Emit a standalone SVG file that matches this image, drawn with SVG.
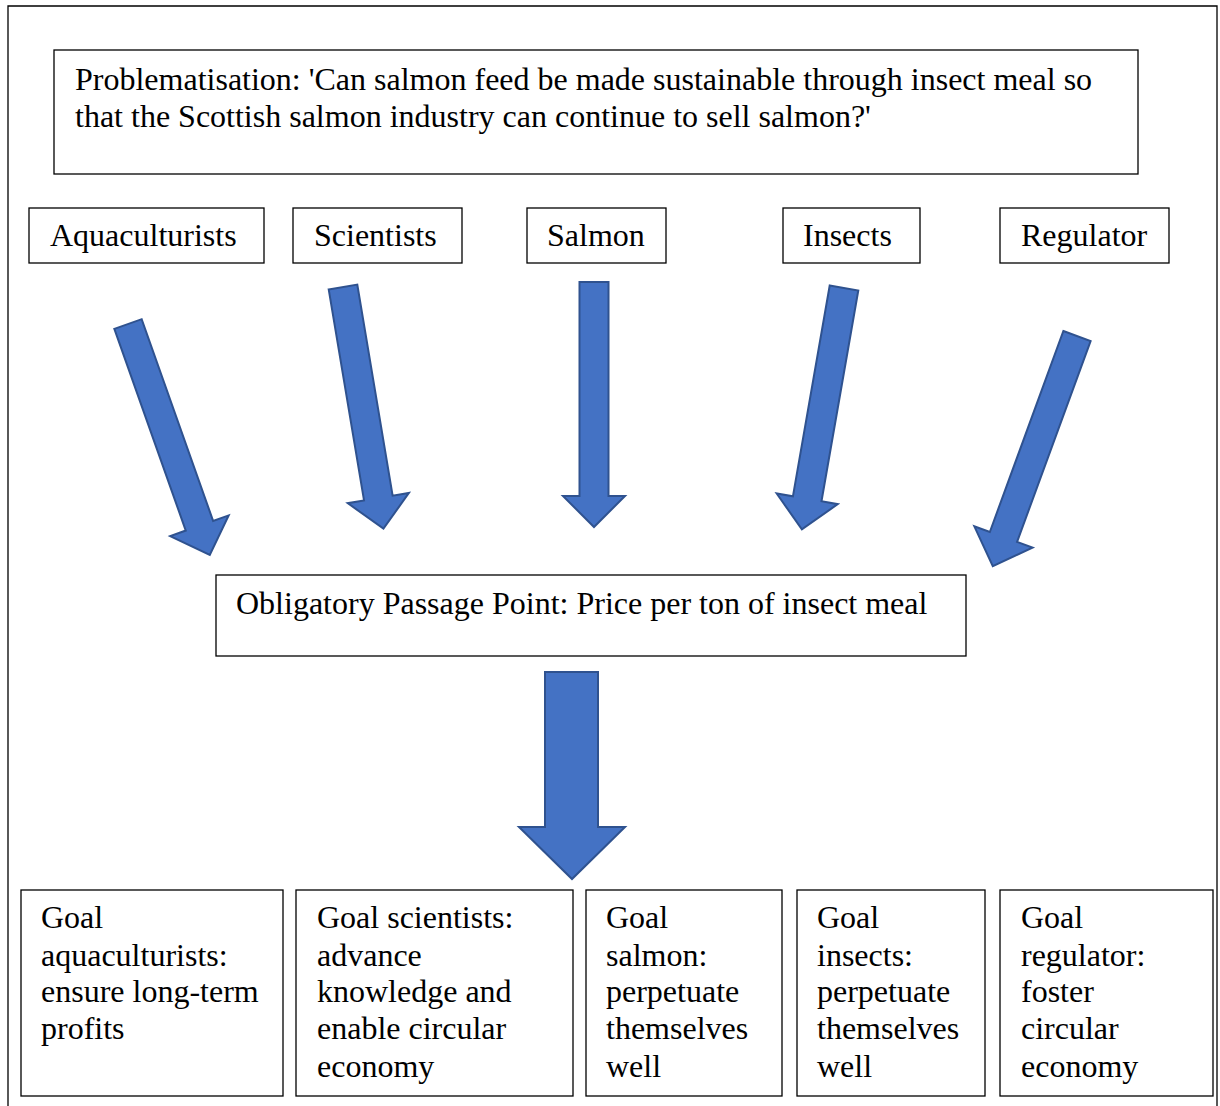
<svg xmlns="http://www.w3.org/2000/svg" width="1220" height="1106" viewBox="0 0 1220 1106">
<style>
.box{fill:#fff;stroke:#000;stroke-width:1.3}
.t{font-family:"Liberation Serif","Times New Roman",serif;font-size:32px;fill:#000}
.arr{fill:#4472C4;stroke:#2F528F;stroke-width:2;stroke-linejoin:miter}
</style>
<defs>
<path id="a" d="M -14.5 0 L 14.5 0 L 14.5 214 L 31 214 L 0 245 L -31 214 L -14.5 214 Z"/>
</defs>
<rect width="1220" height="1106" fill="#fff"/>
<path d="M 8 1106 L 8 6 L 1217 6 L 1217 1106" fill="none" stroke="#000" stroke-width="1.3"/>
<g id="problem"><rect class="box" x="54" y="50" width="1084" height="124"/>
<text class="t" x="75" y="90">Problematisation: 'Can salmon feed be made sustainable through insect meal so</text>
<text class="t" x="75" y="127">that the Scottish salmon industry can continue to sell salmon?'</text></g>
<g id="aquaculturists"><rect class="box" x="29" y="208" width="235" height="55"/><text class="t" x="50" y="246">Aquaculturists</text></g>
<g id="scientists"><rect class="box" x="293" y="208" width="169" height="55"/><text class="t" x="314" y="246">Scientists</text></g>
<g id="salmon"><rect class="box" x="527" y="208" width="139" height="55"/><text class="t" x="547" y="246">Salmon</text></g>
<g id="insects"><rect class="box" x="783" y="208" width="137" height="55"/><text class="t" x="803" y="246">Insects</text></g>
<g id="regulator"><rect class="box" x="1000" y="208" width="169" height="55"/><text class="t" x="1021" y="246">Regulator</text></g>
<g id="opp"><rect class="box" x="216" y="575" width="750" height="81"/><text class="t" x="236" y="614">Obligatory Passage Point: Price per ton of insect meal</text></g>
<g id="connectors">
<use href="#a" class="arr" transform="translate(128,324) rotate(-19.5)"/>
<use href="#a" class="arr" transform="translate(343,287) rotate(-9.5)"/>
<use href="#a" class="arr" transform="translate(594,282)"/>
<use href="#a" class="arr" transform="translate(844,288) rotate(9.9)"/>
<use href="#a" class="arr" transform="translate(1077,336) rotate(20.1)"/>
<path class="arr" d="M 545 672 L 598 672 L 598 827 L 625 827 L 572 879 L 519 827 L 545 827 Z"/>
</g>
<g id="goal1"><rect class="box" x="21" y="890" width="262" height="206"/>
<text class="t"><tspan x="41" y="928">Goal</tspan><tspan x="41" y="966">aquaculturists:</tspan><tspan x="41" y="1002">ensure long-term</tspan><tspan x="41" y="1039">profits</tspan></text></g>
<g id="goal2"><rect class="box" x="296" y="890" width="277" height="206"/>
<text class="t"><tspan x="317" y="928">Goal scientists:</tspan><tspan x="317" y="966">advance</tspan><tspan x="317" y="1002">knowledge and</tspan><tspan x="317" y="1039">enable circular</tspan><tspan x="317" y="1077">economy</tspan></text></g>
<g id="goal3"><rect class="box" x="586" y="890" width="196" height="206"/>
<text class="t"><tspan x="606" y="928">Goal</tspan><tspan x="606" y="966">salmon:</tspan><tspan x="606" y="1002">perpetuate</tspan><tspan x="606" y="1039">themselves</tspan><tspan x="606" y="1077">well</tspan></text></g>
<g id="goal4"><rect class="box" x="797" y="890" width="188" height="206"/>
<text class="t"><tspan x="817" y="928">Goal</tspan><tspan x="817" y="966">insects:</tspan><tspan x="817" y="1002">perpetuate</tspan><tspan x="817" y="1039">themselves</tspan><tspan x="817" y="1077">well</tspan></text></g>
<g id="goal5"><rect class="box" x="1000" y="890" width="213" height="206"/>
<text class="t"><tspan x="1021" y="928">Goal</tspan><tspan x="1021" y="966">regulator:</tspan><tspan x="1021" y="1002">foster</tspan><tspan x="1021" y="1039">circular</tspan><tspan x="1021" y="1077">economy</tspan></text></g>
</svg>
